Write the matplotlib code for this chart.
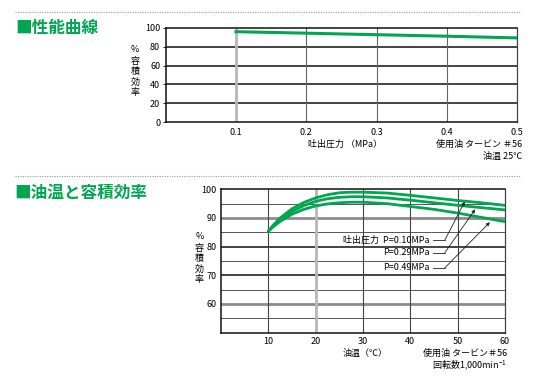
import matplotlib
matplotlib.use("Agg")
import matplotlib.pyplot as plt
from matplotlib.lines import Line2D

plt.rcParams['font.family'] = ['Noto Sans CJK JP', 'DejaVu Sans']

GREEN = "#00a650"

# ── 性能曲線: 吐出圧力 vs 容積効率 ──
pressure = [0.1, 0.2, 0.3, 0.4, 0.5]
eff_pressure = [95.8, 94.2, 92.6, 91.0, 89.2]
p_ticks = [0.1, 0.2, 0.3, 0.4, 0.5]
p_yticks = [0, 20, 40, 60, 80, 100]

# ── 油温と容積効率 ──
temp = [10, 11, 12.5, 15, 17.5, 20, 22.5, 25, 27.5, 30, 35, 40, 45, 50, 55, 60]
eff_010 = [85.3, 87.4, 90.0, 93.2, 95.4, 97.0, 98.1, 98.8, 99.0, 99.0, 98.7, 97.9, 97.0, 96.1, 95.3, 94.4]
eff_029 = [85.3, 87.2, 89.5, 92.3, 94.3, 95.8, 96.7, 97.2, 97.4, 97.4, 97.0, 96.2, 95.3, 94.4, 93.6, 92.8]
eff_049 = [85.3, 86.9, 88.8, 91.3, 93.0, 94.2, 94.9, 95.3, 95.5, 95.5, 95.0, 94.0, 93.0, 91.7, 90.2, 88.7]
t_ticks = [10, 20, 30, 40, 50, 60]
t_yticks = [60, 70, 80, 90, 100]
labels = ["吐出圧力  P=0.10MPa", "P=0.29MPa", "P=0.49MPa"]
label_y = [82.3, 77.9, 72.6]
arrow_tip = [(51.5, 95.7), (53.7, 93.0), (56.8, 88.5)]

W, H = 546, 381
fig = plt.figure(figsize=(W / 100, H / 100), dpi=100)


def fx(px):
    return px / W


def fy(py):
    return 1 - py / H


FS = 6.5

# dotted separators + titles
for y in (12, 175.5):
    fig.add_artist(Line2D([fx(15), fx(520)], [fy(y), fy(y)], color="#999999",
                          lw=0.8, ls=(0, (1, 1.2))))
fig.text(fx(15), fy(28.5), "■性能曲線", color=GREEN, fontsize=12,
         fontweight="bold", va="center", ha="left")
fig.text(fx(14), fy(193), "■油温と容積効率", color=GREEN, fontsize=12,
         fontweight="bold", va="center", ha="left")

# ───────── chart 1 ─────────
ax1 = fig.add_axes([fx(165.7), fy(122.3), (517.3 - 165.7) / W, (122.3 - 27.7) / H])
ax1.set_xlim(0, 0.5)
ax1.set_ylim(0, 100)
for v in p_yticks[1:-1]:
    ax1.axhline(v, color="#111111", lw=1.1, zorder=1)
for v in p_ticks[:-1]:
    if v == 0.1:
        ax1.axvline(v, color="#b8b8b8", lw=2.0, zorder=1)
    else:
        ax1.axvline(v, color="#666666", lw=0.8, zorder=1)
ax1.plot(pressure, eff_pressure, color=GREEN, lw=2.2, zorder=3)
ax1.set_xticks(p_ticks)
ax1.set_xticklabels([f"{v:.1f}" for v in p_ticks])
ax1.set_yticks(p_yticks)
ax1.tick_params(length=2, width=0.6, labelsize=FS, pad=2)
ax1.tick_params(axis="x", length=0, pad=4)
for s in ("top", "bottom", "left"):
    ax1.spines[s].set_color("#111111")
    ax1.spines[s].set_linewidth(1.1)
ax1.spines["right"].set_color("#444444")
ax1.spines["right"].set_linewidth(0.9)

fig.text(fx(135), fy(50), "%", fontsize=FS, ha="center", va="center")
fig.text(fx(135), fy(77), "容\n積\n効\n率", fontsize=FS, ha="center", va="center",
         linespacing=1.22)
fig.text(fx(345), fy(144), "吐出圧力 （MPa）", fontsize=FS, ha="center", va="center")
fig.text(fx(522), fy(144), "使用油 タービン ＃56", fontsize=FS, ha="right", va="center")
fig.text(fx(522), fy(156), "油温 25℃", fontsize=FS, ha="right", va="center")

# ───────── chart 2 ─────────
ax2 = fig.add_axes([fx(221), fy(332.5), (505 - 221) / W, (332.5 - 189.3) / H])
ax2.set_xlim(0, 60)
ax2.set_ylim(50, 100)
for v in range(55, 100, 5):
    if v in (60, 90):
        ax2.axhline(v, color="#8c8c8c", lw=2.0, zorder=1)
    elif v % 10 == 0:
        ax2.axhline(v, color="#111111", lw=1.1, zorder=1)
    else:
        ax2.axhline(v, color="#555555", lw=0.7, zorder=1)
for v in t_ticks[:-1]:
    if v == 20:
        ax2.axvline(v, color="#b8b8b8", lw=2.0, zorder=1)
    else:
        ax2.axvline(v, color="#444444", lw=0.8, zorder=1)
for series in (eff_010, eff_029, eff_049):
    ax2.plot(temp, series, color=GREEN, lw=2.0, zorder=3, solid_capstyle="round")

for text, ly, (tx, ty) in zip(labels, label_y, arrow_tip):
    ax2.text(44.1, ly, text, fontsize=FS, ha="right", va="center", zorder=4)
    ax2.plot([44.8, 47.3], [ly, ly], color="#222222", lw=0.6, zorder=4)
    ax2.annotate("", xy=(tx, ty), xytext=(47.3, ly), zorder=4,
                 arrowprops=dict(arrowstyle="-|>", color="#222222", lw=0.6,
                                 mutation_scale=5, shrinkA=0, shrinkB=0))

ax2.set_xticks(t_ticks)
ax2.set_yticks(t_yticks)
ax2.tick_params(length=0, labelsize=FS, pad=3)
for s in ("top", "bottom", "left"):
    ax2.spines[s].set_color("#111111")
    ax2.spines[s].set_linewidth(1.1)
ax2.spines["right"].set_color("#444444")
ax2.spines["right"].set_linewidth(0.9)

fig.text(fx(199.5), fy(236), "%", fontsize=FS, ha="center", va="center")
fig.text(fx(199.5), fy(264), "容\n積\n効\n率", fontsize=FS, ha="center", va="center",
         linespacing=1.18)
fig.text(fx(365), fy(353.5), "油温（℃）", fontsize=FS, ha="center", va="center")
fig.text(fx(507), fy(353.5), "使用油 タービン＃56", fontsize=FS, ha="right", va="center")
fig.text(fx(507), fy(365.5), "回転数1,000min$^{\\mathregular{-1}}$", fontsize=FS,
         ha="right", va="center")

fig.savefig("out.png", dpi=100)
